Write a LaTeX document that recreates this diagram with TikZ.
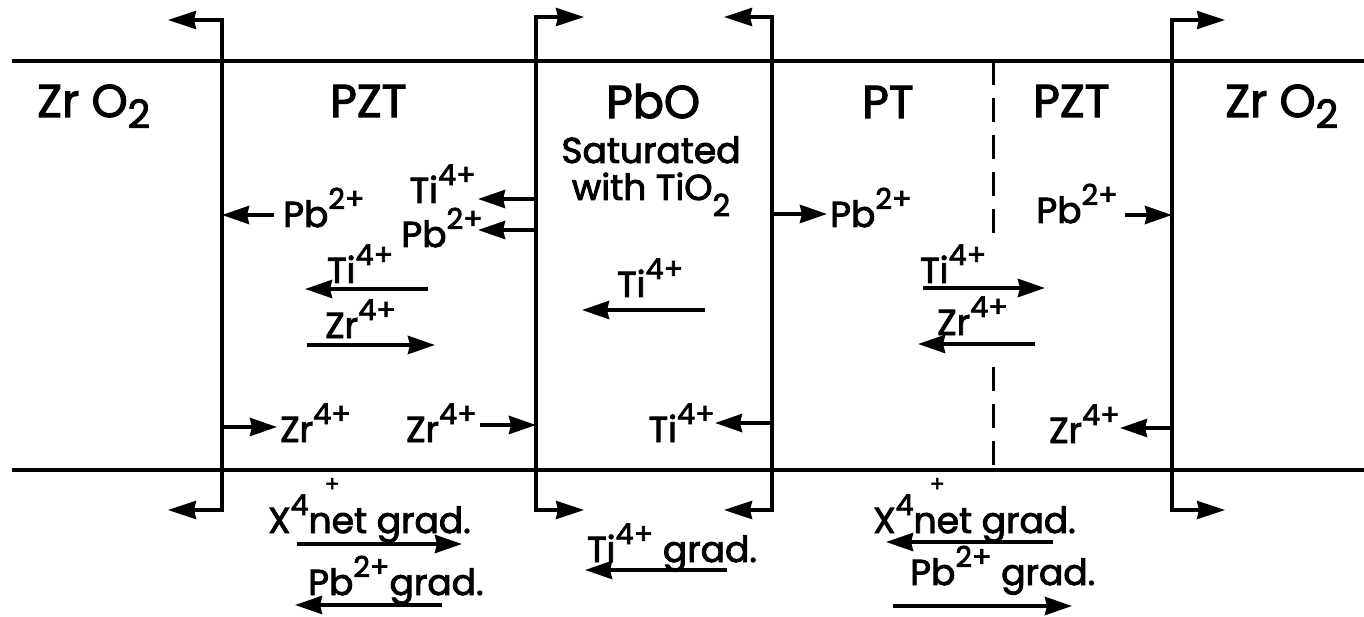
\documentclass[tikz,border=0pt]{standalone}
\usepackage{fontspec}
\usepackage{graphicx}
\setmainfont{Poppins}[FakeBold=2.5]
\usetikzlibrary{arrows.meta}
\newcommand\upidx[1]{\raisebox{0.5em}{\scalebox{0.8}{#1}}}
\newcommand\dnidx[2]{\raisebox{-#1}{\scalebox{0.85}{#2}}}
\newcommand\xplus{X\upidx{4}\rlap{\hspace{0.45em}\raisebox{1.15em}{\scalebox{0.6}{+}}}}
\begin{document}
\begin{tikzpicture}[x=1pt,y=-1pt,
  wall/.style={line width=3.5pt},
  dashwall/.style={line width=3pt,dash pattern=on 24pt off 13pt},
  hookwall/.style={line width=3.5pt,
    {Stealth[length=28pt,width=18pt,inset=2pt]}-{Stealth[length=28pt,width=18pt,inset=2pt]}},
  flux/.style={line width=4pt,-{Stealth[length=27pt,width=18pt,inset=2pt]}},
  phase/.style={font=\fontsize{46}{50}\selectfont,anchor=base west,inner sep=0pt},
  note/.style={font=\fontsize{36}{40}\selectfont,anchor=base,inner sep=0pt},
  ionw/.style={font=\fontsize{36}{40}\selectfont,anchor=base west,inner sep=0pt},
  ione/.style={font=\fontsize{36}{40}\selectfont,anchor=base east,inner sep=0pt}]
\useasboundingbox (0,0) rectangle (1364,617);
% horizontal boundaries
\coordinate (tL) at (12,61);  \coordinate (tR) at (1364,61);
\coordinate (bL) at (12,470); \coordinate (bR) at (1364,470);
\draw[wall] (tL) -- (tR);
\draw[wall] (bL) -- (bR);
% interface walls with hooks
\coordinate (w1) at (222,0); \coordinate (w2) at (536,0);
\coordinate (w3) at (772,0); \coordinate (w4) at (1172,0);
\draw[hookwall] (168,510) -- (w1 |- 0,510) -- (w1 |- 0,20) -- (168,20);
\draw[hookwall] (584,510) -- (w2 |- 0,510) -- (w2 |- 0,17) -- (584,17);
\draw[hookwall] (724,510) -- (w3 |- 0,510) -- (w3 |- 0,17) -- (724,17);
\draw[hookwall] (1225,510) -- (w4 |- 0,510) -- (w4 |- 0,20) -- (1225,20);
% dashed PT/PZT boundary
\coordinate (d1) at (993,61); \coordinate (d2) at (993,240);
\coordinate (d3) at (993,367); \coordinate (d4) at (993,470);
\draw[dashwall] (d1) -- (d2);
\draw[dashwall] (d3) -- (d4);
% phase labels
\node[phase] (zrL) at (37,117) {Zr O\dnidx{0.24em}{2}};
\node[phase] (pztL) at (330,117) {PZT};
\node[phase] (pbo) at (606,118) {PbO};
\node[note] (sat) at (651,163) {Saturated};
\node[note] (with) at (651,200) {with TiO\dnidx{0.45em}{2}};
\node[phase] (pt) at (862,118) {PT};
\node[phase] (pztR) at (1033,117) {PZT};
\node[phase] (zrR) at (1225,117) {Zr O\dnidx{0.24em}{2}};
% ion labels
\node[ionw] (l1) at (283,227) {Pb\upidx{2+}};
\node[ione] (l2) at (476,203) {Ti\upidx{4+}};
\node[ione] (l3) at (483,247) {Pb\upidx{2+}};
\node[ionw] (l4) at (327,283) {Ti\upidx{4+}};
\node[ionw] (l5) at (325,338) {Zr\upidx{4+}};
\node[ionw] (l6) at (280,442) {Zr\upidx{4+}};
\node[ione] (l7) at (477,442) {Zr\upidx{4+}};
\node[ionw] (l8) at (617,297) {Ti\upidx{4+}};
\node[ione] (l9) at (715,442) {Ti\upidx{4+}};
\node[ionw] (l10) at (830,227) {Pb\upidx{2+}};
\node[ionw] (l11) at (920,283) {Ti\upidx{4+}};
\node[ionw] (l12) at (937,335) {Zr\upidx{4+}};
\node[ione] (l13) at (1118,223) {Pb\upidx{2+}};
\node[ione] (l14) at (1120,443) {Zr\upidx{4+}};
% gradient labels
\node[ionw] (g1) at (268,533) {\xplus net grad.};
\node[ionw] (g2) at (308,595) {Pb\upidx{2+}grad.};
\node[ionw] (g3) at (587,562) {Ti\upidx{4+} grad.};
\node[ionw] (g4) at (873,533) {\xplus net grad.};
\node[ionw] (g5) at (910,585) {Pb\upidx{2+} grad.};
% ion flux arrows
\draw[flux] (274,215) -- (222,215);
\draw[flux] (536,199) -- (478,199);
\draw[flux] (536,230) -- (478,230);
\draw[flux] (428,289) -- (305,289);
\draw[flux] (307,345) -- (435,345);
\draw[flux] (222,427) -- (277,427);
\draw[flux] (480,425) -- (536,425);
\draw[flux] (705,310) -- (582,310);
\draw[flux] (772,423) -- (715,423);
\draw[flux] (772,214) -- (827,214);
\draw[flux] (923,288) -- (1045,288);
\draw[flux] (1035,344) -- (918,344);
\draw[flux] (1125,215) -- (1172,215);
\draw[flux] (1172,428) -- (1120,428);
% gradient arrows
\draw[flux] (297,544) -- (462,544);
\draw[flux] (442,605) -- (295,605);
\draw[flux] (727,570) -- (585,570);
\draw[flux] (1053,542) -- (886,542);
\draw[flux] (893,606) -- (1072,606);
\end{tikzpicture}
\end{document}
